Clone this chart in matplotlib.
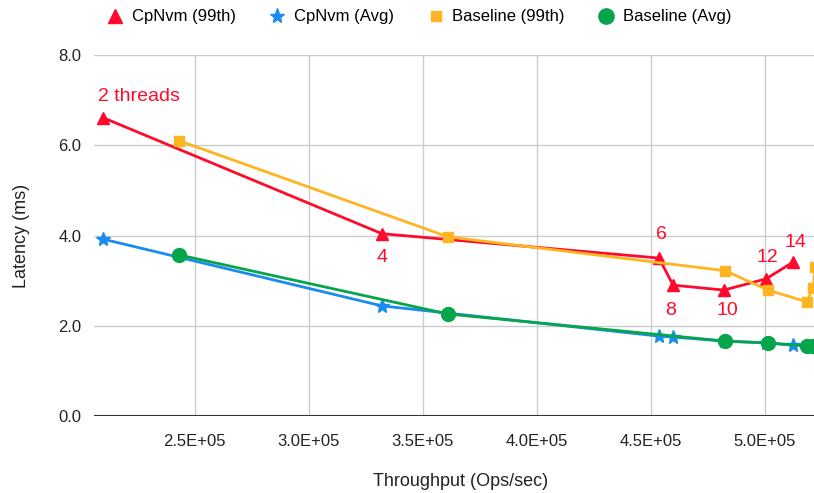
import matplotlib
matplotlib.use("Agg")
import matplotlib.pyplot as plt
from matplotlib.ticker import FuncFormatter, FixedLocator

plt.rcParams['font.family'] = ['Liberation Sans', 'DejaVu Sans']

# ---- data ----
cp_x = [2.099e5, 3.322e5, 4.537e5, 4.599e5, 4.822e5, 5.007e5, 5.125e5]
cp_99 = [6.61, 4.04, 3.50, 2.90, 2.79, 3.04, 3.41]
cp_avg = [3.92, 2.44, 1.77, 1.75, 1.66, 1.62, 1.57]
cp_labels = ['2 threads', '4', '6', '8', '10', '12', '14']

base_x = [2.432e5, 3.612e5, 4.827e5, 5.016e5, 5.186e5, 5.213e5, 5.222e5]
base_99 = [6.10, 3.97, 3.22, 2.79, 2.53, 2.84, 3.30]
base_avg = [3.57, 2.26, 1.66, 1.62, 1.55, 1.55, 1.55]

series_names = ['CpNvm (99th)', 'CpNvm (Avg)', 'Baseline (99th)', 'Baseline (Avg)']
x_ticks = [2.5e5, 3.0e5, 3.5e5, 4.0e5, 4.5e5, 5.0e5]
y_ticks = [0.0, 2.0, 4.0, 6.0, 8.0]

RED = '#FF0A2C'
BLUE = '#1A8CF0'
YELLOW = '#FFB521'
GREEN = '#06A54B'

fig = plt.figure(figsize=(8.14, 4.93), dpi=100)
ax = fig.add_axes([94/814, 77/493, 1 - 94/814, (416-55)/493])

h1, = ax.plot(cp_x, cp_99, color=RED, lw=2.0, marker='^', ms=9, label=series_names[0])
h2, = ax.plot(cp_x, cp_avg, color=BLUE, lw=2.0, marker='*', ms=10, label=series_names[1])
h3, = ax.plot(base_x, base_99, color=YELLOW, lw=2.0, marker='s', ms=7, label=series_names[2])
h4, = ax.plot(base_x, base_avg, color=GREEN, lw=2.0, marker='o', ms=10, label=series_names[3])

offsets = [(-5, 21), (0, -24), (2, 24), (-3, -25), (3, -20), (1, 21), (2, 20)]
for x, y, lab, off in zip(cp_x, cp_99, cp_labels, offsets):
    ha = 'left' if lab == '2 threads' else 'center'
    ax.annotate(lab, (x, y), xytext=off, textcoords='offset pixels',
                ha=ha, va='center', color=RED, fontsize=14)

ax.set_xlim(2.059e5, 5.217e5)
ax.set_ylim(0, 8)
ax.xaxis.set_major_locator(FixedLocator(x_ticks))
ax.yaxis.set_major_locator(FixedLocator(y_ticks))
ax.xaxis.set_major_formatter(FuncFormatter(lambda v, p: f"{v:.1E}"))
ax.yaxis.set_major_formatter(FuncFormatter(lambda v, p: f"{v:.1f}"))
ax.grid(True, color='#CCCCCC', lw=1.0)
ax.set_axisbelow(True)
for s in ['top', 'right', 'left', 'bottom']:
    ax.spines[s].set_visible(False)
ax.axhline(0, color='#333333', lw=1.5, zorder=1.5)
ax.tick_params(axis='both', length=0, labelsize=12, colors='#222222')
ax.tick_params(axis='x', pad=13)
ax.tick_params(axis='y', pad=9)

fig.text(461/814, 1 - 481/493, 'Throughput (Ops/sec)', ha='center', va='center',
         fontsize=13, color='#222222')
fig.text(22/814, 1 - 236/493, 'Latency (ms)', ha='center', va='center',
         rotation=90, fontsize=13, color='#222222')

fig.legend(handles=[h1, h2, h3, h4], loc='center', ncol=4,
           bbox_to_anchor=(419/814, 1 - 17/493), frameon=False,
           fontsize=12, handlelength=1.0, handletextpad=0.5, columnspacing=2.0,
           markerscale=1.1)
for lh in fig.legends[0].legend_handles:
    lh.set_linestyle('None')

fig.savefig('out.png', dpi=100)
